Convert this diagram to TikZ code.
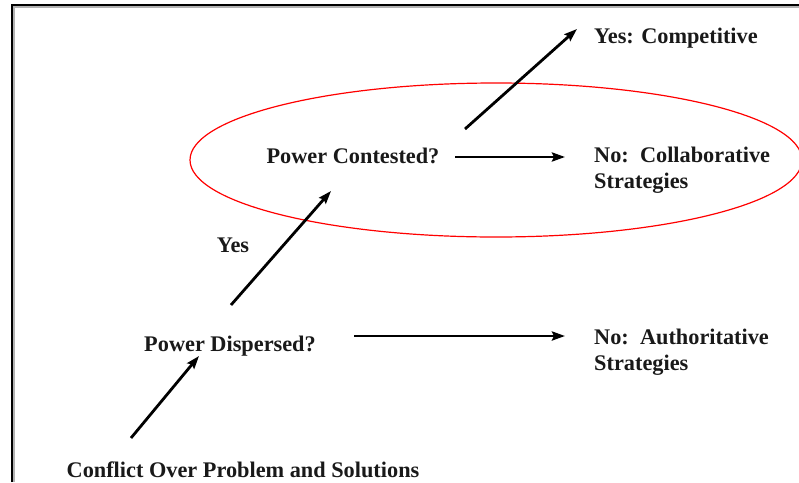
\documentclass[tikz,border=0pt]{standalone}
\usepackage{fontspec}
\setmainfont{Liberation Serif}
\usetikzlibrary{arrows.meta}
\begin{document}
\begin{tikzpicture}[x=1pt,y=-1pt,
  lbl/.style={font=\fontsize{22.3}{26}\selectfont\bfseries, inner sep=0pt, text=black!90},
  arr/.style={line width=2.8pt, -{Stealth[length=13pt,width=9pt,inset=2pt]}},
  frame/.style={line width=1.8pt, black}]
\useasboundingbox (0,0) rectangle (799,482);
% page frame
\draw[frame, gray!60] (14,482) -- (14,7) -- (799,7);
\draw[frame] (12,482) -- (12,5) -- (799,5);
% highlight ellipse
\draw[red, line width=1.2pt] (496,160) ellipse [x radius=306, y radius=77];
% labels
\node[lbl] (conflict) at (243,470) {Conflict Over Problem and Solutions};
\node[lbl] (dispersed) at (230,346) {Power Dispersed?};
\node[lbl] (contested) at (353,156) {Power Contested?};
\node[lbl] (yes) at (233,245) {Yes};
\node[lbl, anchor=west] (competitive) at (594,38) {Yes: Competitive};
\node[lbl, anchor=north west, align=left] (collab) at (594,147) {No:\ \ Collaborative\\Strategies};
\node[lbl, anchor=north west, align=left] (auth) at (594,329) {No:\ \ Authoritative\\Strategies};
% connector end points
\coordinate (a1s) at (131,438); \coordinate (a1e) at (199,356);
\coordinate (a2s) at (231,305); \coordinate (a2e) at (331,191);
\coordinate (a3s) at (354,336); \coordinate (a3e) at (565,336);
\coordinate (a4s) at (455,157); \coordinate (a4e) at (565,157);
\coordinate (a5s) at (465,129); \coordinate (a5e) at (577,29);
\draw[arr] (a1s) -- (a1e);
\draw[arr] (a2s) -- (a2e);
\draw[arr] (a3s) -- (a3e);
\draw[arr] (a4s) -- (a4e);
\draw[arr] (a5s) -- (a5e);
\end{tikzpicture}
\end{document}
